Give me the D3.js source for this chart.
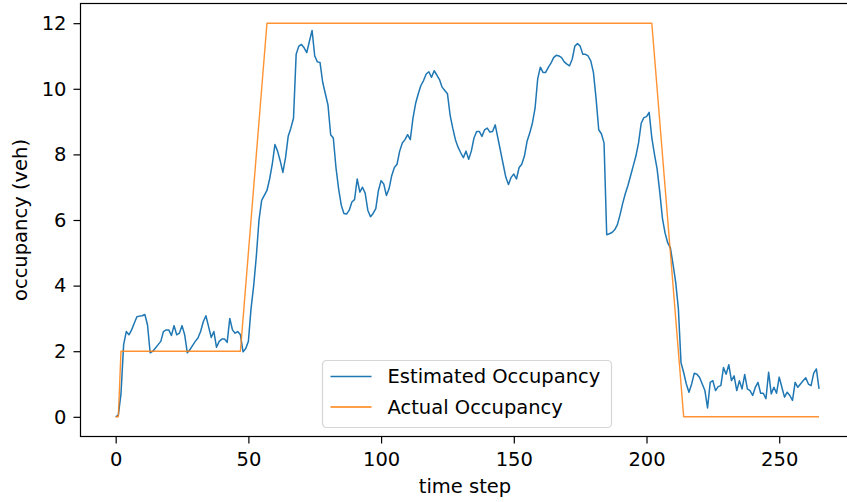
<!DOCTYPE html>
<html>
<head>
<meta charset="utf-8">
<script src="https://cdn.jsdelivr.net/npm/d3@7"></script>
<style>
  body { margin: 0; background: #fff; }
  svg { display: block; font-family: "DejaVu Sans", sans-serif; }
</style>
</head>
<body>
<svg id="chart" width="847" height="502"></svg>
<script>
// estimated occupancy, one value per time step (0..265)
const estimated = [
  0.0, 0.05, 0.7, 2.2, 2.6, 2.5, 2.65, 2.85, 3.05, 3.07,
  3.08, 3.12, 2.8, 1.95, 2.0, 2.1, 2.2, 2.3, 2.6, 2.65,
  2.65, 2.48, 2.78, 2.5, 2.55, 2.78, 2.5, 1.95, 2.05, 2.18,
  2.3, 2.4, 2.6, 2.9, 3.08, 2.75, 2.42, 2.6, 2.12, 2.3,
  2.37, 2.37, 2.27, 3.0, 2.65, 2.55, 2.6, 2.5, 1.98, 2.08,
  2.3, 3.3, 4.0, 4.9, 6.0, 6.6, 6.75, 6.9, 7.25, 7.7,
  8.3, 8.1, 7.8, 7.45, 7.9, 8.55, 8.8, 9.1, 11.05, 11.3,
  11.35, 11.25, 11.1, 11.45, 11.78, 11.0, 10.82, 10.8, 10.2, 9.85,
  9.5, 8.6, 8.5, 7.6, 6.95, 6.45, 6.2, 6.18, 6.3, 6.55,
  6.62, 7.25, 6.85, 7.0, 6.82, 6.3, 6.1, 6.2, 6.35, 6.9,
  7.2, 7.1, 6.75, 6.95, 7.35, 7.6, 7.7, 8.1, 8.35, 8.45,
  8.6, 8.45, 9.1, 9.55, 9.85, 10.1, 10.25, 10.45, 10.52, 10.35,
  10.55, 10.42, 10.28, 10.05, 9.95, 9.85, 9.2, 8.8, 8.45, 8.22,
  8.05, 7.9, 8.1, 7.85, 8.1, 8.5, 8.7, 8.7, 8.55, 8.75,
  8.8, 8.68, 8.7, 8.9, 8.5, 8.1, 7.7, 7.3, 7.08, 7.3,
  7.4, 7.25, 7.6, 7.7, 7.95, 8.4, 8.65, 8.95, 9.4, 10.3,
  10.66, 10.5, 10.5, 10.65, 10.78, 10.95, 11.02, 11.0, 10.95, 10.82,
  10.75, 10.7, 10.9, 11.3, 11.38, 11.3, 11.05, 11.05, 11.0, 10.85,
  10.5, 9.7, 8.75, 8.63, 8.35, 5.55, 5.58, 5.62, 5.7, 5.85,
  6.15, 6.5, 6.8, 7.05, 7.35, 7.65, 7.95, 8.35, 8.95, 9.12,
  9.15, 9.28, 8.5, 8.0, 7.55, 6.85, 6.05, 5.6, 5.3, 5.15,
  4.65, 4.1, 3.3, 1.65, 1.35, 1.0, 0.75, 1.0, 1.33, 1.3,
  1.2, 1.0, 0.8, 0.27, 1.05, 1.1, 0.8, 0.92, 0.95, 1.5,
  1.3, 1.59, 1.1, 1.25, 0.8, 1.1, 0.85, 1.29, 0.85, 0.8,
  0.65, 0.9, 1.05, 0.72, 0.72, 0.55, 1.36, 0.7, 0.9, 0.72,
  1.21, 0.9, 0.6, 0.75, 0.65, 0.5, 1.05, 0.9, 1.0, 1.1,
  1.19, 1.0, 0.95, 1.33, 1.46, 0.85
];

// actual occupancy, breakpoints of the piecewise-linear ground truth
const actualSteps = [0, 1, 2, 47, 57, 202, 214, 265];
const actualValues = [0, 0, 2, 2, 12, 12, 0, 0];

const xTicks = [0, 50, 100, 150, 200, 250];
const yTicks = [0, 2, 4, 6, 8, 10, 12];
const seriesNames = ['Estimated Occupancy', 'Actual Occupancy'];
const colors = ['#1f77b4', '#ff7f0e'];

const svg = d3.select('#chart');
const W = 847, H = 502;
const fontSize = 19.5;

// frame extents (right spine falls just outside the picture)
const frame = { left: 80.5, right: 854.2, top: 3.5, bottom: 436.5 };

// matplotlib-style 5% margins on the data extent
const n = estimated.length - 1;
const x = d3.scaleLinear().domain([-0.05 * n, n * 1.05]).range([frame.left, frame.right]);
const y = d3.scaleLinear().domain([-0.6, 12.6]).range([frame.bottom, frame.top]);

svg.append('rect').attr('width', W).attr('height', H).attr('fill', '#fff');

const estData = estimated.map((v, i) => [i, v]);
const actData = actualSteps.map((t, i) => [t, actualValues[i]]);

const line = d3.line().x(d => x(d[0])).y(d => y(d[1]));

svg.append('path')
  .datum(estData)
  .attr('d', line)
  .attr('fill', 'none')
  .attr('stroke', colors[0])
  .attr('stroke-width', 1.5)
  .attr('stroke-linejoin', 'round');

svg.append('path')
  .datum(actData)
  .attr('d', line)
  .attr('fill', 'none')
  .attr('stroke', colors[1])
  .attr('stroke-width', 1.4)
  .attr('stroke-opacity', 0.85)
  .attr('stroke-linejoin', 'round');

// axes
const xAxis = svg.append('g')
  .attr('transform', `translate(0,${frame.bottom})`)
  .call(d3.axisBottom(x).tickValues(xTicks).tickSize(7).tickPadding(9).tickSizeOuter(0));

const yAxis = svg.append('g')
  .attr('transform', `translate(${frame.left},0)`)
  .call(d3.axisLeft(y).tickValues(yTicks).tickSize(7).tickPadding(7).tickSizeOuter(0));

[xAxis, yAxis].forEach(g => {
  g.select('.domain').remove();
  g.selectAll('.tick line').attr('stroke', '#000').attr('stroke-width', 1.2);
  g.selectAll('.tick text')
    .attr('fill', '#000')
    .attr('font-size', fontSize)
    .attr('font-family', '"DejaVu Sans", sans-serif');
});

// spines: left, bottom, top, right
svg.append('rect')
  .attr('x', frame.left).attr('y', frame.top)
  .attr('width', frame.right - frame.left).attr('height', frame.bottom - frame.top)
  .attr('fill', 'none').attr('stroke', '#000').attr('stroke-width', 1.2);

// axis labels
svg.append('text')
  .attr('x', 465)
  .attr('y', 493)
  .attr('text-anchor', 'middle')
  .attr('font-size', fontSize)
  .text('time step');

svg.append('text')
  .attr('transform', `translate(27,${(frame.top + frame.bottom) / 2}) rotate(-90)`)
  .attr('text-anchor', 'middle')
  .attr('font-size', fontSize)
  .text('occupancy (veh)');

// legend
const legend = svg.append('g').attr('transform', 'translate(322.5,360.5)');
legend.append('rect')
  .attr('width', 289).attr('height', 67)
  .attr('rx', 4)
  .attr('fill', '#fff').attr('fill-opacity', 0.8)
  .attr('stroke', '#d6d6d6').attr('stroke-width', 1.2);

seriesNames.forEach((name, i) => {
  const cy = 16 + i * 30.5;
  legend.append('line')
    .attr('x1', 8).attr('x2', 49)
    .attr('y1', cy).attr('y2', cy)
    .attr('stroke', colors[i]).attr('stroke-width', 1.5);
  legend.append('text')
    .attr('x', 65).attr('y', cy)
    .attr('dy', '0.35em')
    .attr('font-size', fontSize)
    .attr('fill', '#000')
    .text(name);
});
</script>
</body>
</html>
